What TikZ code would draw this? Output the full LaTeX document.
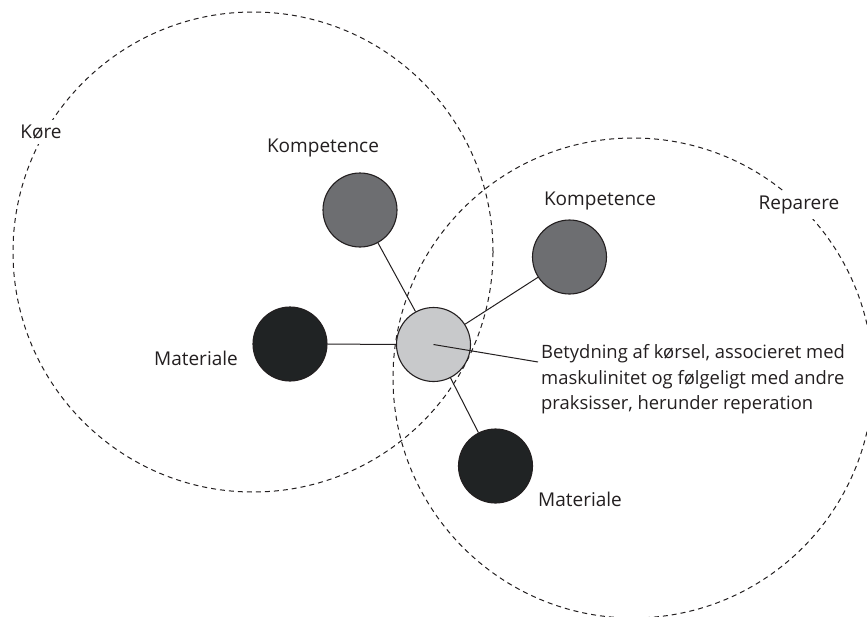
\documentclass[tikz,border=0pt]{standalone}
\usepackage{fontspec}
\setmainfont{Open Sans}
\definecolor{ink}{HTML}{231F20}
\definecolor{kompc}{HTML}{6D6E71}
\definecolor{matc}{HTML}{202324}
\definecolor{centc}{HTML}{C8C9CB}
\begin{document}
\begin{tikzpicture}[x=1pt,y=-1pt,
  region/.style={draw=ink,dashed,dash pattern=on 5pt off 4pt,line width=1pt},
  ball/.style={circle,draw=ink,line width=1.1pt,minimum size=74pt,inner sep=0pt},
  komp/.style={ball,fill=kompc},
  mat/.style={ball,fill=matc},
  cent/.style={ball,fill=centc},
  lbl/.style={text=ink,font=\fontsize{19}{22}\selectfont,inner sep=0pt},
  glbl/.style={lbl,fill=white,inner sep=5pt},
  link/.style={draw=ink,line width=1pt}]
\useasboundingbox (0,0) rectangle (867,616);
\clip (0,0) rectangle (867,616);
\fill[white] (0,0) rectangle (867,616);
% regions
\draw[region] (253,252) circle[radius=240pt];
\draw[region] (633,378) circle[radius=240pt];
\node[glbl] (kore) at (41,132) {Køre};
\node[glbl] (rep) at (799,205) {Reparere};
% balls
\node[komp] (k1) at (360,210) {};
\node[mat] (m1) at (290,344) {};
\node[cent] (c) at (433.5,344.5) {};
\node[komp] (k2) at (569.5,257) {};
\node[mat] (m2) at (495.5,466) {};
% links
\draw[link] (k1) -- (c);
\draw[link] (m1) -- (c);
\draw[link] (c) -- (k2);
\draw[link] (c) -- (m2);
\coordinate (ptr) at (538,362);
\draw[link] (c.center) -- (ptr);
% labels
\node[lbl] (lk1) at (323,148) {Kompetence};
\node[lbl] (lk2) at (600,201) {Kompetence};
\node[lbl] (lm1) at (196,358) {Materiale};
\node[lbl] (lm2) at (580,499) {Materiale};
\node[lbl,align=left,anchor=north west,font=\fontsize{18.4}{25.5}\selectfont] (desc) at (541,344.5)
  {Betydning af kørsel, associeret med\\maskulinitet og følgeligt med andre\\praksisser, herunder reperation};
\end{tikzpicture}
\end{document}
